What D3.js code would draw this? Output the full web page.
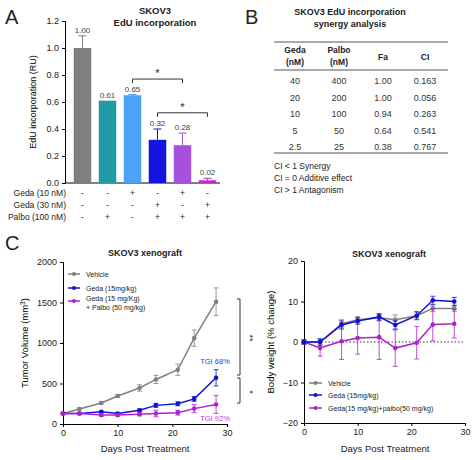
<!DOCTYPE html><html><head><meta charset="utf-8"><script src="https://cdn.jsdelivr.net/npm/d3@7"></script>
<style>body{margin:0;background:#fff}text{font-family:Arial,"Liberation Sans",sans-serif}</style></head><body><svg id="s" width="474" height="460"></svg><script>
const barVals=[1.00,0.61,0.65,0.32,0.28,0.02];
const barErr=[0.09,0,0.005,0.08,0.09,0.015];
const barColors=["#7f7f7f","#1f9aa6","#4aa3f5","#1414e0","#a651db","#b82fc8"];
const rowLabels=["Geda (10 nM)","Geda (30 nM)","Palbo (100 nM)"];
const rowSigns=[["-","-","+","-","+","-"],["-","-","-","+","-","+"],["-","+","-","+","+","+"]];
const aTicks=[0,0.2,0.4,0.6,0.8,1.0,1.2];
const tblHead=[["Geda","(nM)"],["Palbo","(nM)"],["Fa"],["CI"]];
const tblRows=[["40","400","1.00","0.163"],["20","200","1.00","0.056"],["10","100","0.94","0.263"],["5","50","0.64","0.541"],["2.5","25","0.38","0.767"]];
const ciNotes=["CI < 1  Synergy","CI = 0  Additive effect","CI > 1  Antagonism"];
const days=[0,3,7,10,14,17,21,24,28];
const tvVeh=[130,185,260,345,445,550,670,1060,1510],tvVehE=[0,10,15,15,40,50,70,100,170];
const tvGeda=[130,130,150,130,170,230,250,310,570],tvGedaE=[5,10,10,10,15,25,25,30,100];
const tvCombo=[130,130,110,110,120,130,140,190,240],tvComboE=[5,10,15,15,20,40,30,50,110];
const bwVeh=[0,0,4.5,5.5,6,5.5,6.5,8.3,8.3],bwVehE=[0.5,0.7,1,0.8,0.8,1.2,0.8,0.8,0.8];
const bwGeda=[0,0,4.2,5.2,6.2,4.2,6.5,10.3,10],bwGedaE=[0.5,0.8,1,0.8,0.8,1,1,1,1];
const bwCombo=[0,-1.5,0.2,1,1.2,-1.5,-0.2,4.3,4.5],bwComboE=[0.5,2,4.5,4,5.5,4.5,4,4,3.5];
const cGray="#808080",cBlue="#1010d8",cPurp="#b020c8";
const svg=d3.select("#s");
function t(x,y,s,o={}){return svg.append("text").attr("x",x).attr("y",y).text(s).attr("font-size",o.fs||8).attr("text-anchor",o.a||"middle").attr("font-weight",o.b?"bold":null).attr("fill",o.c||"#222");}
function ax_(g){g.selectAll("text").attr("font-size",9).attr("font-family","Arial, Liberation Sans, sans-serif").attr("fill","#222");}
t(5,24,"A",{fs:20,a:"start"});t(245,24,"B",{fs:20,a:"start"});t(5,250,"C",{fs:20,a:"start"});
// Panel A
const ax=d3.scaleBand().domain(d3.range(6)).range([70,220]).paddingInner(0.3).paddingOuter(0.15);
const ay=d3.scaleLinear().domain([0,1.2]).range([183,21]);
t(155,14,"SKOV3",{b:1,fs:9.5});t(155,26,"EdU incorporation",{b:1,fs:9.5});
svg.append("g").attr("transform","translate(65,0)").call(d3.axisLeft(ay).tickValues(aTicks).tickFormat(d3.format(".1f")).tickSize(3)).call(ax_);
svg.append("line").attr("x1",65).attr("x2",220).attr("y1",183).attr("y2",183).attr("stroke","#000");
svg.append("text").attr("transform","translate(36,102) rotate(-90)").attr("text-anchor","middle").attr("font-size",9).text("EdU incorporation (RU)");
barVals.forEach((v,i)=>{const x=ax(i),w=ax.bandwidth(),cx=x+w/2;
 svg.append("rect").attr("x",x).attr("y",ay(v)).attr("width",w).attr("height",ay(0)-ay(v)).attr("fill",barColors[i]);
 if(barErr[i]>0){svg.append("line").attr("x1",cx).attr("x2",cx).attr("y1",ay(v)).attr("y2",ay(v+barErr[i])).attr("stroke",barColors[i]);
 svg.append("line").attr("x1",cx-4).attr("x2",cx+4).attr("y1",ay(v+barErr[i])).attr("y2",ay(v+barErr[i])).attr("stroke",barColors[i]);}
 t(cx,ay(v+barErr[i])-3,v.toFixed(2),{fs:8,c:"#444"});
 rowSigns.forEach((r,j)=>t(cx,196+j*12,r[i],{fs:8.5}));
});
rowLabels.forEach((l,j)=>t(66,196+j*12,l,{a:"end",fs:8.5}));
[[2,4,0.77],[3,5,0.52]].forEach(([a,b,v])=>{const x1=ax(a)+ax.bandwidth()/2,x2=ax(b)+ax.bandwidth()/2,y=ay(v);
 svg.append("path").attr("d",`M${x1},${y+4}V${y}H${x2}V${y+4}`).attr("fill","none").attr("stroke","#333");
 t((x1+x2)/2,y-2,"*",{fs:11});});
// Panel B
t(350,15,"SKOV3 EdU incorporation",{b:1,fs:9});t(350,27,"synergy analysis",{b:1,fs:9});
const cols=[295,339,383,425];
[[42,1.2],[70,1],[153,1.2]].forEach(([y,w])=>svg.append("line").attr("x1",274).attr("x2",448).attr("y1",y).attr("y2",y).attr("stroke","#555").attr("stroke-width",w));
tblHead.forEach((h,i)=>{if(h.length==2){t(cols[i],53,h[0],{b:1,fs:8.5});t(cols[i],65,h[1],{b:1,fs:8.5});}else t(cols[i],60,h[0],{b:1,fs:8.5});});
tblRows.forEach((r,j)=>r.forEach((c,i)=>t(cols[i],84+j*16.5,c,{fs:9,c:"#333"})));
ciNotes.forEach((n,j)=>t(274,169+j*12,n,{a:"start",fs:8.5}));
// Panel C left
const lx=d3.scaleLinear().domain([0,30]).range([63,227]);
const ly=d3.scaleLinear().domain([0,2000]).range([424,262]);
t(145,256,"SKOV3 xenograft",{b:1,fs:9});
svg.append("g").attr("transform","translate(63,0)").call(d3.axisLeft(ly).ticks(4).tickFormat(d3.format("d")).tickSize(3)).call(ax_);
svg.append("g").attr("transform","translate(0,424)").call(d3.axisBottom(lx).ticks(3).tickSize(3)).call(ax_);
t(145,452,"Days Post Treatment",{fs:9.5});
const yl=svg.append("text").attr("transform","translate(28,343) rotate(-90)").attr("text-anchor","middle").attr("font-size",9.5);
yl.append("tspan").text("Tumor Volume  (mm");yl.append("tspan").attr("font-size",6.5).attr("dy",-3).text("3");yl.append("tspan").attr("dy",3).text(")");
function series(x,y,vals,errs,col,r){
 svg.append("path").datum(vals).attr("d",d3.line().x((d,i)=>x(days[i])).y(d=>y(d))).attr("fill","none").attr("stroke",col).attr("stroke-width",1.5);
 vals.forEach((v,i)=>{const cx=x(days[i]);if(errs[i]>0){svg.append("path").attr("d",`M${cx-2.5},${y(v+errs[i])}H${cx+2.5}M${cx},${y(v+errs[i])}V${y(v-errs[i])}M${cx-2.5},${y(v-errs[i])}H${cx+2.5}`).attr("stroke",col).attr("stroke-width",0.8).attr("fill","none");}
 svg.append("circle").attr("cx",cx).attr("cy",y(v)).attr("r",r).attr("fill",col);});}
series(lx,ly,tvVeh,tvVehE,cGray,2.3);series(lx,ly,tvGeda,tvGedaE,cBlue,2.3);series(lx,ly,tvCombo,tvComboE,cPurp,2.3);
[[cGray,274,["Vehicle"]],[cBlue,288,["Geda (15mg/kg)"]],[cPurp,301,["Geda (15 mg/Kg)","+ Palbo (50 mg/kg)"]]].forEach(([c,y,ls])=>{
 svg.append("line").attr("x1",68).attr("x2",80).attr("y1",y).attr("y2",y).attr("stroke",c).attr("stroke-width",1.5);
 svg.append("circle").attr("cx",74).attr("cy",y).attr("r",2).attr("fill",c);
 ls.forEach((l,k)=>t(86,y+3+k*9-(ls.length>1?3:0),l,{a:"start",fs:7}));});
t(215,364,"TGI 68%",{fs:7.5,c:"#2a3ad0"});t(215,421,"TGI 92%",{fs:7.5,c:"#c040d0"});
svg.append("path").attr("d","M237,299H240V375H237").attr("fill","none").attr("stroke","#333");
svg.append("path").attr("d","M237,378H240V403H237").attr("fill","none").attr("stroke","#333");
t(247,338,"**",{fs:9}).attr("transform","rotate(90,247,338)");t(247,392,"*",{fs:9}).attr("transform","rotate(90,247,392)");
// Panel C right
const rx=d3.scaleLinear().domain([0,30]).range([304,465]);
const ry=d3.scaleLinear().domain([-20,20]).range([423,261]);
t(389,257,"SKOV3 xenograft",{b:1,fs:9});
svg.append("g").attr("transform","translate(304,0)").call(d3.axisLeft(ry).ticks(4).tickSize(3)).call(ax_);
svg.append("g").attr("transform","translate(0,423)").call(d3.axisBottom(rx).ticks(3).tickSize(3)).call(ax_);
svg.append("line").attr("x1",304).attr("x2",465).attr("y1",ry(0)).attr("y2",ry(0)).attr("stroke","#333").attr("stroke-dasharray","1.5,2");
t(385,452,"Days Post Treatment",{fs:9.5});
svg.append("text").attr("transform","translate(274,342) rotate(-90)").attr("text-anchor","middle").attr("font-size",9.5).text("Body weight (% change)");
series(rx,ry,bwVeh,bwVehE,cGray,2.3);series(rx,ry,bwCombo,bwComboE,cPurp,2.3);series(rx,ry,bwGeda,bwGedaE,cBlue,2.3);
[[cGray,383,"Vehicle"],[cBlue,395,"Geda (15mg/kg)"],[cPurp,408,"Geda(15 mg/kg)+palbo(50 mg/kg)"]].forEach(([c,y,l])=>{
 svg.append("line").attr("x1",309).attr("x2",322).attr("y1",y).attr("y2",y).attr("stroke",c).attr("stroke-width",1.5);
 svg.append("circle").attr("cx",315.5).attr("cy",y).attr("r",2).attr("fill",c);
 t(328,y+2.5,l,{a:"start",fs:7});});
</script></body></html>
